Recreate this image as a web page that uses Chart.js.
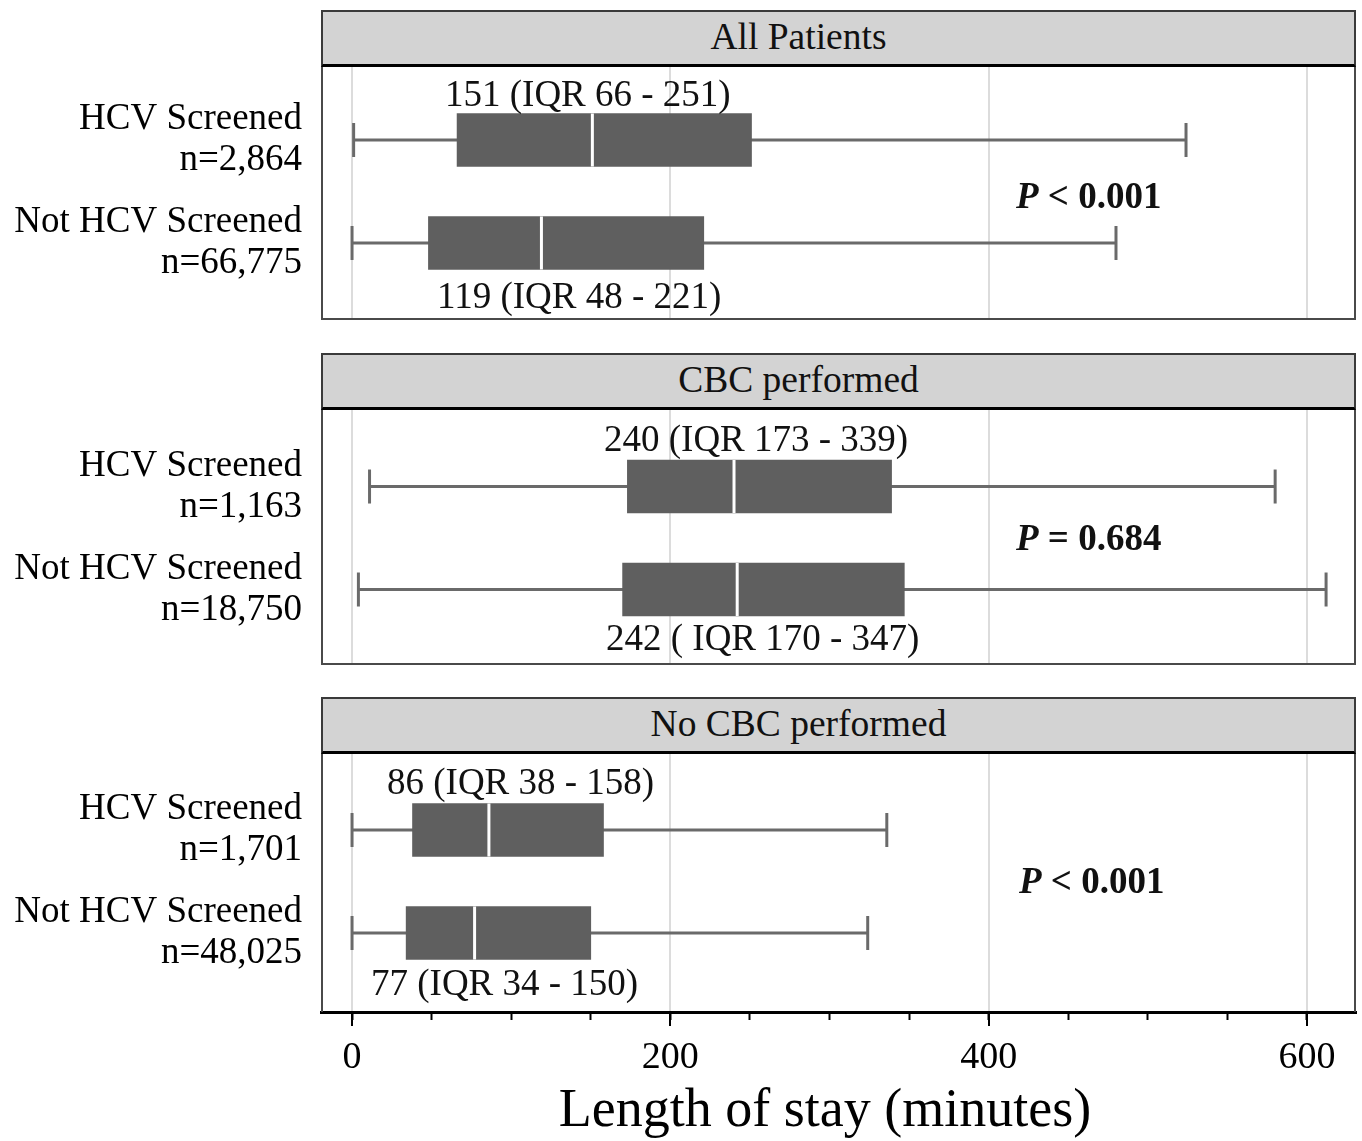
<!DOCTYPE html>
<html><head><meta charset="utf-8">
<script src="https://cdn.jsdelivr.net/npm/chart.js@4.4.0/dist/chart.umd.min.js"></script>
<style>
html,body{margin:0;padding:0;background:#fff;}
body{width:1362px;height:1141px;position:relative;overflow:hidden;font-family:"Liberation Serif","Times New Roman",serif;}
.hdr{position:absolute;left:321px;width:1035px;height:57px;box-sizing:border-box;background:#d3d3d3;border:2px solid #3a3a3a;border-bottom:3px solid #000;font-size:37.5px;line-height:49px;text-align:center;padding-right:80px;color:#111;}
.frame{position:absolute;left:321px;width:1035px;box-sizing:border-box;border:2px solid #4a4a4a;border-top:none;pointer-events:none;}
.note{position:absolute;font-size:37px;line-height:37px;white-space:nowrap;color:#111;}
.pv{font-weight:bold;}
</style></head><body>
<script>
// ---- data ----
const panelTitles = ['All Patients', 'CBC performed', 'No CBC performed'];
const groupNames = ['HCV Screened', 'Not HCV Screened'];
const groupSizes = [['n=2,864', 'n=66,775'], ['n=1,163', 'n=18,750'], ['n=1,701', 'n=48,025']];
const whiskerLow = [[1, 0], [11, 4], [0, 0]];
const quartile1 = [[66, 48], [173, 170], [38, 34]];
const medians = [[151, 119], [240, 242], [86, 77]];
const quartile3 = [[251, 221], [339, 347], [158, 150]];
const whiskerHigh = [[524, 480], [580, 612], [336, 324]];
const summaryLabels = [['151 (IQR 66 - 251)', '119 (IQR 48 - 221)'], ['240 (IQR 173 - 339)', '242 ( IQR 170 - 347)'], ['86 (IQR 38 - 158)', '77 (IQR 34 - 150)']];
const pSymbols = ['<', '=', '<'];
const pValues = ['0.001', '0.684', '0.001'];
const xTickValues = [0, 200, 400, 600];
const xMinorTickValues = [0, 50, 100, 150, 200, 250, 300, 350, 400, 450, 500, 550, 600];
const xTitle = 'Length of stay (minutes)';

// ---- layout (positions / sizes only) ----
const FONT = '"Liberation Serif", "Times New Roman", serif';
const X_MIN = -19.5, X_MAX = 630.8;
const layout = [
  {hdrTop: 10,  plotTop: 67,  plotH: 253, yMin: -0.709, yMax: 1.748, notes: [[445, 93], [437, 295]], p: [1016, 195]},
  {hdrTop: 353, plotTop: 410, plotH: 255, yMin: -0.743, yMax: 1.733, notes: [[604, 438], [606, 637]], p: [1016, 537]},
  {hdrTop: 697, plotTop: 754, plotH: 258, yMin: -0.738, yMax: 1.767, notes: [[387, 781], [371, 982]], p: [1019, 880]}
];
const BOX_COLOR = '#5f5f5f', WHISKER_COLOR = '#6a6a6a';
function addDiv(cls) { const d = document.createElement('div'); d.className = cls; document.body.appendChild(d); return d; }

layout.forEach((L, pi) => {
  const last = pi === layout.length - 1;
  const axisH = last ? 129 : 0;
  const cv = document.createElement('canvas');
  cv.width = 1362; cv.height = L.plotH + axisH;
  cv.style.cssText = `position:absolute;left:0;top:${L.plotTop}px;width:1362px;height:${L.plotH + axisH}px;`;
  document.body.appendChild(cv);
  const rows = [0, 1];
  const datasets = [
    {type: 'bar', data: rows.map(r => ({x: [quartile1[pi][r], quartile3[pi][r]], y: r})),
     backgroundColor: BOX_COLOR, borderWidth: 0, barThickness: 53, grouped: false, order: 1},
    {type: 'scatter', data: rows.map(r => ({x: medians[pi][r], y: r})),
     pointStyle: 'line', pointRotation: 90, pointRadius: 26.5, pointBorderColor: '#ffffff', pointBorderWidth: 3, order: 0},
    ...rows.map(r => ({type: 'scatter', showLine: true,
      data: [{x: whiskerLow[pi][r], y: r}, {x: whiskerHigh[pi][r], y: r}],
      borderColor: WHISKER_COLOR, borderWidth: 3, pointRadius: 0, order: 2})),
    {type: 'scatter', data: rows.flatMap(r => [{x: whiskerLow[pi][r], y: r}, {x: whiskerHigh[pi][r], y: r}]),
     pointStyle: 'line', pointRotation: 90, pointRadius: 17, pointBorderColor: WHISKER_COLOR, pointBorderWidth: 3, order: 2}
  ];
  const scales = {
    x: {type: 'linear', min: X_MIN, max: X_MAX, position: 'bottom', weight: 1, offset: false,
      afterBuildTicks: s => { s.ticks = xTickValues.map(v => ({value: v})); },
      afterFit: s => { s.height = axisH; s.paddingLeft = 0; s.paddingRight = 0; },
      grid: {color: '#dcdcdc', lineWidth: 2, drawTicks: last, tickLength: 14, tickColor: '#000', tickWidth: 2, offset: false},
      border: {display: last, color: '#000', width: 3},
      ticks: {display: last, font: {family: FONT, size: 38}, color: '#000', padding: 9, maxRotation: 0},
      title: {display: last, text: xTitle + '  ', font: {family: FONT, size: 54, lineHeight: 1}, color: '#000', padding: {top: 2, bottom: 2}}
    },
    y: {type: 'linear', reverse: true, min: L.yMin, max: L.yMax, position: 'left', offset: false,
      afterBuildTicks: s => { s.ticks = rows.map(r => ({value: r})); },
      afterFit: s => { s.width = 321; s.paddingTop = 0; s.paddingBottom = 0; },
      grid: {display: false, offset: false}, border: {display: false},
      ticks: {font: {family: FONT, size: 37, lineHeight: 1.12}, color: '#000', padding: 11,
        callback: v => [groupNames[v], groupSizes[pi][v]]}
    }
  };
  if (last) {
    scales.xm = {type: 'linear', min: X_MIN, max: X_MAX, position: 'bottom', weight: 0, offset: false,
      afterBuildTicks: s => { s.ticks = xMinorTickValues.map(v => ({value: v})); },
      afterFit: s => { s.height = 0; s.paddingLeft = 0; s.paddingRight = 0; },
      grid: {drawOnChartArea: false, tickLength: 8, tickColor: '#000', tickWidth: 2},
      border: {display: false},
      ticks: {display: false}
    };
  }
  new Chart(cv, {
    type: 'bar',
    data: {datasets},
    options: {
      indexAxis: 'y', responsive: false, animation: false, events: [],
      layout: {autoPadding: false, padding: {left: 0, right: 6, top: 0, bottom: 0}},
      plugins: {legend: {display: false}, tooltip: {enabled: false}},
      scales
    }
  });

  const h = addDiv('hdr'); h.textContent = panelTitles[pi]; h.style.top = L.hdrTop + 'px';
  const f = addDiv('frame'); f.style.top = L.plotTop + 'px'; f.style.height = L.plotH + 'px';
  if (last) f.style.borderBottom = 'none';
  summaryLabels[pi].forEach((t, r) => {
    const d = addDiv('note'); d.textContent = t;
    d.style.left = L.notes[r][0] + 'px'; d.style.top = (L.notes[r][1] - 18) + 'px';
  });
  const p = addDiv('note pv');
  const it = document.createElement('i'); it.textContent = 'P'; p.appendChild(it);
  p.appendChild(document.createTextNode(' ' + pSymbols[pi] + ' ' + pValues[pi]));
  p.style.left = L.p[0] + 'px'; p.style.top = (L.p[1] - 18) + 'px';
});
</script>
</body></html>
